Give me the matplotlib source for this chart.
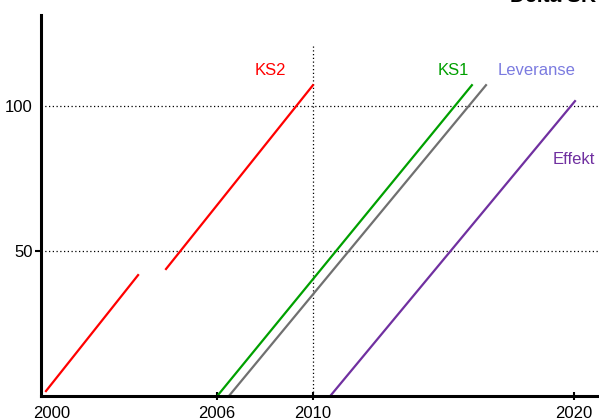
import matplotlib
matplotlib.use("Agg")
import matplotlib.pyplot as plt

plt.rcParams['font.family'] = ['Liberation Sans', 'DejaVu Sans']

# series: (start year, start value, end year, end value)
ks2_a_x = [1999.77, 2003.30]
ks2_a_y = [1.7, 41.7]
ks2_b_x = [2004.37, 2010.0]
ks2_b_y = [43.8, 107.2]
ks1_x = [2006.36, 2016.09]
ks1_y = [0.3, 107.2]
leveranse_x = [2006.78, 2016.63]
leveranse_y = [0.0, 107.2]
effekt_x = [2010.69, 2020.04]
effekt_y = [0.3, 101.7]

x_ticks = [2000, 2006.33, 2010, 2020]
x_tick_labels = ['2000', '2006', '2010', '2020']
y_ticks = [50, 100]

fig = plt.figure(figsize=(5.99, 4.19), dpi=100)
ax = fig.add_axes([41 / 599, 23 / 419, 558 / 599, 381 / 419])

ax.plot(ks2_a_x, ks2_a_y, color='#ff0000', lw=1.6)
ax.plot(ks2_b_x, ks2_b_y, color='#ff0000', lw=1.6)
ax.plot(ks1_x, ks1_y, color='#00a000', lw=1.6)
ax.plot(leveranse_x, leveranse_y, color='#707070', lw=1.6)
ax.plot(effekt_x, effekt_y, color='#7030a0', lw=1.6)

# dotted reference lines
for yv in y_ticks:
    ax.axhline(yv, color='black', ls=(0, (1, 2)), lw=0.9, zorder=0)
ax.plot([2010, 2010], [0, 121.5], color='black', ls=(0, (1, 2)), lw=0.9, zorder=0)

ax.text(2008.35, 112.4, 'KS2', color='#ff0000', fontsize=12, ha='center', va='center')
ax.text(2015.36, 112.4, 'KS1', color='#00a000', fontsize=12, ha='center', va='center')
ax.text(2018.58, 112.4, 'Leveranse', color='#7b7be0', fontsize=12, ha='center', va='center')
ax.text(2020.0, 81.4, 'Effekt', color='#7030a0', fontsize=12, ha='center', va='center')

ax.set_xlim(1999.58, 2020.96)
ax.set_ylim(0, 131.4)
ax.set_xticks(x_ticks)
ax.set_xticklabels(x_tick_labels, fontsize=12)
ax.set_yticks(y_ticks)
ax.set_yticklabels([str(v) for v in y_ticks], fontsize=12)
ax.tick_params(axis='x', direction='inout', length=6, width=1.5, pad=4.5)
ax.tick_params(axis='y', direction='out', length=4, width=1.5, pad=2)
ax.xaxis.get_major_ticks()[0].tick1line.set_visible(False)
ax.yaxis.get_major_ticks()[1].tick1line.set_visible(False)

for side in ['top', 'right']:
    ax.spines[side].set_visible(False)
for side in ['left', 'bottom']:
    ax.spines[side].set_linewidth(2.2)

fig.text(510 / 599, 1 - 1.5 / 419, 'Delta SK', fontsize=15, fontweight='bold',
         ha='left', va='baseline')

fig.savefig('out.png', dpi=100)
